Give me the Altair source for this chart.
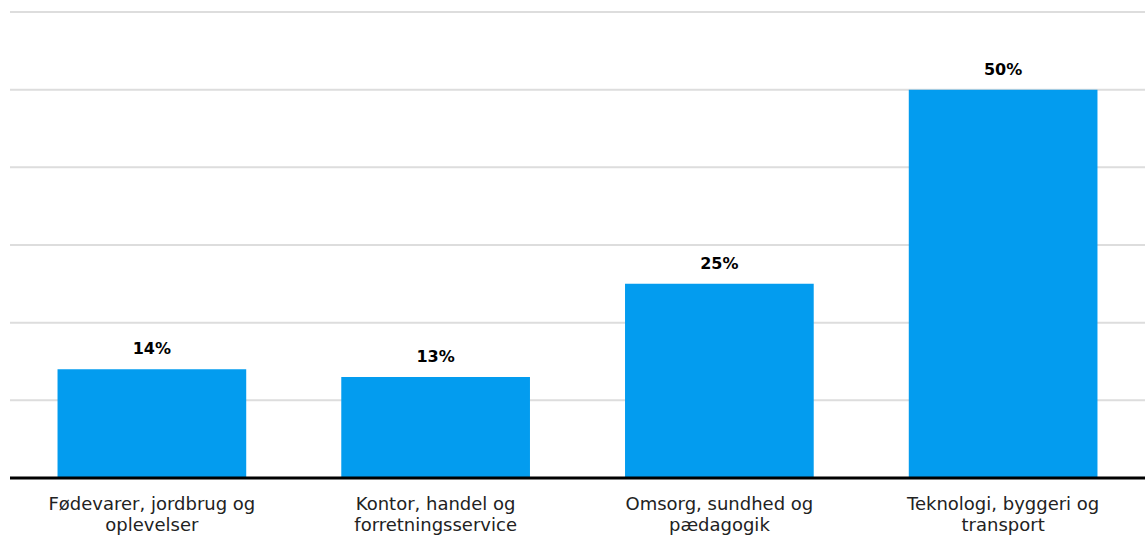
import altair as alt
import pandas as pd

# Share of respondents by main education area (%)
categories = [
    "Fødevarer, jordbrug og\noplevelser",
    "Kontor, handel og\nforretningsservice",
    "Omsorg, sundhed og\npædagogik",
    "Teknologi, byggeri og\ntransport",
]
values = [14, 13, 25, 50]
labels = ["14%", "13%", "25%", "50%"]
grid_values = [10, 20, 30, 40, 50, 60]

df = pd.DataFrame({"category": categories, "value": values, "label": labels})
grid_df = pd.DataFrame({"g": grid_values})

FONT = "DejaVu Sans"
BLUE = "#039cef"
Y_SCALE = alt.Scale(domain=[0, 60])

x = alt.X(
    "category:N",
    sort=categories,
    scale=alt.Scale(paddingInner=0.335, paddingOuter=0.1675),
    axis=alt.Axis(
        title=None,
        labelAngle=0,
        labelExpr="split(datum.label, '\\n')",
        labelFont=FONT,
        labelFontSize=18,
        labelColor="#222222",
        labelPadding=17,
        labelLineHeight=21,
        labelLimit=0,
        domain=False,
        ticks=False,
        grid=False,
    ),
)
y = alt.Y("value:Q", scale=Y_SCALE, axis=None)

grid = alt.Chart(grid_df).mark_rule(color="#dddddd", strokeWidth=2).encode(
    y=alt.Y("g:Q", scale=Y_SCALE, axis=None)
)

bars = alt.Chart(df).mark_bar(color=BLUE).encode(x=x, y=y)

text = alt.Chart(df).mark_text(
    font=FONT, fontSize=16, fontWeight="bold", color="#000000",
    baseline="bottom", dy=-12,
).encode(x=x, y=y, text="label:N")

baseline = alt.Chart(pd.DataFrame({"v": [0]})).mark_rule(
    color="#000000", strokeWidth=3
).encode(y=alt.Y("v:Q", scale=Y_SCALE, axis=None))

chart = (
    alt.layer(grid, bars, text, baseline)
    .properties(
        width=1135,
        height=466,
        padding={"left": 10, "top": 12, "right": 0, "bottom": 58},
        autosize=alt.AutoSizeParams(type="none"),
        view=alt.ViewBackground(strokeOpacity=0, strokeWidth=0),
    )
    .configure_view(strokeWidth=0, strokeOpacity=0)
    .configure(background="white")
)

chart.save("out.html", embed_options={"renderer": "svg", "actions": False})
